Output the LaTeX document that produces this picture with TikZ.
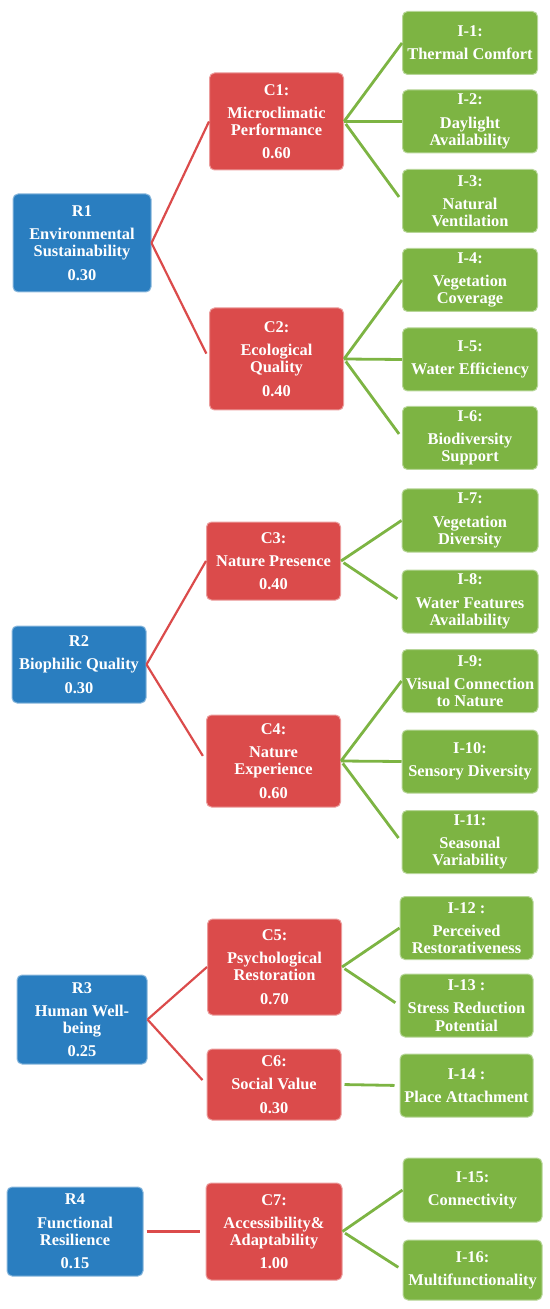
\documentclass[tikz,border=0pt]{standalone}
\usepackage{fontspec}
\setmainfont{Liberation Serif}
\definecolor{rblue}{HTML}{2A7EC0}
\definecolor{cred}{HTML}{DB4B4B}
\definecolor{igreen}{HTML}{7DB443}

\begin{document}
\begin{tikzpicture}[x=0.5pt, y=-0.5pt,
                box/.style={rounded corners=2.5pt, text=white, align=center, inner sep=1pt, line width=0.5pt, font=\bfseries\fontsize{8.2}{8.6}\selectfont},
                rbox/.style={box, fill=rblue, draw=rblue!55!white, minimum width=67pt},
                cbox/.style={box, fill=cred, draw=cred!55!white, minimum width=67pt},
                ibox/.style={box, fill=igreen, draw=igreen!55!white, minimum width=67.5pt, minimum height=31.5pt},
                rline/.style={draw=cred, line width=1.1pt, shorten >=3pt},
                iline/.style={draw=igreen, line width=1.4pt, shorten <=1.5pt, shorten >=2.5pt}]
                \useasboundingbox (0,0) rectangle (550,1309);
                \node[rbox, minimum width=69pt, minimum height=49pt] (R1) at (82,243) {R1\\[3pt] Environmental\\ Sustainability\\[3pt] 0.30};
                \node[cbox, minimum height=48.5pt] (C1) at (276.5,121.5) {C1:\\[3pt] Microclimatic\\ Performance\\[3pt] 0.60};
                \node[cbox, minimum height=51pt] (C2) at (276.5,359) {C2:\\[3pt] Ecological\\ Quality\\[3pt] 0.40};
                \node[ibox] (I1) at (470,43) {I-1:\\[3pt] Thermal Comfort};
                \node[ibox] (I2) at (470,121.5) {I-2:\\[3pt] Daylight\\ Availability};
                \node[ibox] (I3) at (470,201) {I-3:\\[3pt] Natural\\ Ventilation};
                \node[ibox] (I4) at (470,280) {I-4:\\[3pt] Vegetation\\ Coverage};
                \node[ibox] (I5) at (470,359.5) {I-5:\\[3pt] Water Efficiency};
                \node[ibox] (I6) at (470,438) {I-6:\\[3pt] Biodiversity\\ Support};
                \draw[rline] (R1.east) -- (C1.west) (R1.east) -- (C2.west);
                \draw[iline] (C1.east) -- (I1.west) (C1.east) -- (I2.west) (C1.east) -- (I3.west);
                \draw[iline] (C2.east) -- (I4.west) (C2.east) -- (I5.west) (C2.east) -- (I6.west);

                \node[rbox, minimum height=38.5pt] (R2) at (79,664.5) {R2\\[3pt] Biophilic Quality\\[3pt] 0.30};
                \node[cbox, minimum height=39pt] (C3) at (273.5,561) {C3:\\[3pt] Nature Presence\\[3pt] 0.40};
                \node[cbox, minimum height=46pt] (C4) at (273.5,761) {C4:\\[3pt] Nature\\ Experience\\[3pt] 0.60};
                \node[ibox, minimum width=68pt] (I7) at (470,520.5) {I-7:\\[3pt] Vegetation\\ Diversity};
                \node[ibox, minimum width=68pt] (I8) at (470,601.5) {I-8:\\[3pt] Water Features\\ Availability};
                \node[ibox, minimum width=68pt] (I9) at (470,681) {I-9:\\[3pt] Visual Connection\\ to Nature};
                \node[ibox, minimum width=68pt] (I10) at (470,761.5) {I-10:\\[3pt] Sensory Diversity};
                \node[ibox, minimum width=68pt] (I11) at (470,842) {I-11:\\[3pt] Seasonal\\ Variability};
                \draw[rline] (R2.east) -- (C3.west) (R2.east) -- (C4.west);
                \draw[iline] (C3.east) -- (I7.west) (C3.east) -- (I8.west);
                \draw[iline] (C4.east) -- (I9.west) (C4.east) -- (I10.west) (C4.east) -- (I11.west);

                \node[rbox, minimum width=65pt, minimum height=44.5pt] (R3) at (82,1019.5) {R3\\[3pt] Human Well-\\ being\\[3pt] 0.25};
                \node[cbox, minimum height=48pt] (C5) at (274.5,967) {C5:\\[3pt] Psychological\\ Restoration\\[3pt] 0.70};
                \node[cbox, minimum height=35.5pt] (C6) at (274,1084.5) {C6:\\[3pt] Social Value\\[3pt] 0.30};
                \node[ibox, minimum width=66.5pt] (I12) at (466.5,928) {I-12 :\\[3pt] Perceived\\ Restorativeness};
                \node[ibox, minimum width=66.5pt] (I13) at (466.5,1005.5) {I-13 :\\[3pt] Stress Reduction\\ Potential};
                \node[ibox, minimum width=66.5pt] (I14) at (466.5,1085.5) {I-14 :\\[3pt] Place Attachment};
                \draw[rline] (R3.east) -- (C5.west) (R3.east) -- (C6.west);
                \draw[iline] (C5.east) -- (I12.west) (C5.east) -- (I13.west);
                \draw[iline] (C6.east) -- (I14.west);

                \node[rbox, minimum width=68pt, minimum height=44.5pt] (R4) at (75,1231.5) {R4\\[3pt] Functional\\ Resilience\\[3pt] 0.15};
                \node[cbox, minimum width=68pt, minimum height=48.5pt] (C7) at (274,1231.5) {C7:\\[3pt] Accessibility\&\\ Adaptability\\[3pt] 1.00};
                \node[ibox, minimum width=69.5pt, minimum height=32pt] (I15) at (472.5,1190) {I-15:\\[3pt] Connectivity};
                \node[ibox, minimum width=69.5pt, minimum height=30pt] (I16) at (472.5,1270) {I-16:\\[3pt] Multifunctionality};
                \draw[rline, line width=1.8pt, shorten <=1.5pt] (R4.east) -- (C7.west);
                \draw[iline] (C7.east) -- (I15.west) (C7.east) -- (I16.west);
            \end{tikzpicture}
\end{document}
